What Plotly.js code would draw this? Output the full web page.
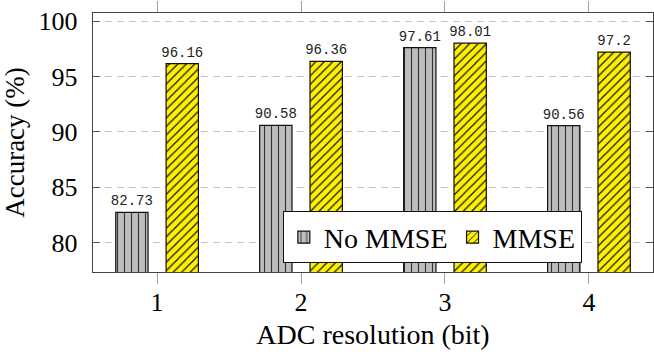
<!DOCTYPE html>
<html>
<head>
<meta charset="utf-8">
<script src="https://cdn.plot.ly/plotly-3.0.1.min.js"></script>
<style>
  html, body { margin: 0; padding: 0; background: #fff; }
  #chart { width: 654px; height: 354px; }
</style>
</head>
<body>
<div id="chart"></div>
<script>
// ---- data ----
const resolutions = [1, 2, 3, 4];
const noMmse = [82.73, 90.58, 97.61, 90.56];
const mmse = [96.16, 96.36, 98.01, 97.2];
const seriesNames = ['No MMSE', 'MMSE'];
const yTicks = [80, 85, 90, 95, 100];

const barWidth = 0.2245;
const serifFont = '"Liberation Serif", "Times New Roman", serif';
const labelFont = {family: '"Liberation Mono", "DejaVu Sans Mono", monospace', size: 14, color: '#222'};

const traces = [
  {
    type: 'bar',
    name: seriesNames[0],
    x: resolutions,
    y: noMmse,
    width: barWidth,
    offset: -0.175 - barWidth / 2,
    text: noMmse.map(String),
    textposition: 'outside',
    textfont: labelFont,
    outsidetextfont: labelFont,
    constraintext: 'none',
    cliponaxis: false,
    marker: {
      color: '#bdbdbd',
      line: {color: '#111', width: 1.2},
      pattern: {shape: '|', size: 7, solidity: 0.16, fgcolor: '#333', bgcolor: '#bdbdbd', fillmode: 'replace'}
    },
    hoverinfo: 'skip'
  },
  {
    type: 'bar',
    name: seriesNames[1],
    x: resolutions,
    y: mmse,
    width: barWidth,
    offset: 0.175 - barWidth / 2,
    text: mmse.map(String),
    textposition: 'outside',
    textfont: labelFont,
    outsidetextfont: labelFont,
    constraintext: 'none',
    cliponaxis: false,
    marker: {
      color: '#fff000',
      line: {color: '#111', width: 1.2},
      pattern: {shape: '/', size: 6, solidity: 0.2, fgcolor: '#111', bgcolor: '#fff000', fillmode: 'replace'}
    },
    hoverinfo: 'skip'
  }
];

const layout = {
  width: 654,
  height: 354,
  margin: {l: 93, r: 1, t: 13, b: 82},
  paper_bgcolor: '#fff',
  plot_bgcolor: '#fff',
  barmode: 'overlay',
  showlegend: true,
  font: {family: serifFont, color: '#000', size: 25},
  xaxis: {
    type: 'linear',
    range: [0.555, 4.445],
    tickvals: resolutions,
    ticktext: resolutions.map(String),
    ticks: 'outside',
    ticklen: 11,
    tickwidth: 1,
    tickcolor: '#a0a0a0',
    showline: true,
    linecolor: '#444',
    linewidth: 1.2,
    mirror: 'ticks',
    showgrid: false,
    zeroline: false,
    tickfont: {family: serifFont, size: 26, color: '#000'},
    ticklabelstandoff: -4,
    title: {text: 'ADC resolution (bit)', font: {family: serifFont, size: 28, color: '#000'}, standoff: 8}
  },
  yaxis: {
    range: [77.35, 100.73],
    tickvals: yTicks,
    ticktext: yTicks.map(String),
    ticks: 'inside',
    ticklen: 7,
    tickwidth: 1,
    tickcolor: '#555',
    showline: true,
    linecolor: '#444',
    linewidth: 1.2,
    mirror: 'ticks',
    showgrid: true,
    gridcolor: '#c4c4c4',
    gridwidth: 1,
    griddash: '7px,5px',
    zeroline: false,
    tickfont: {family: serifFont, size: 26, color: '#000'},
    ticklabelstandoff: 9,
    title: {text: 'Accuracy (%)', font: {family: serifFont, size: 27, color: '#000'}, standoff: 7}
  },
  legend: {
    orientation: 'h',
    x: 0.339,
    xanchor: 'left',
    y: 0.033,
    yanchor: 'bottom',
    bgcolor: '#fff',
    bordercolor: '#111',
    borderwidth: 1,
    font: {family: serifFont, size: 28, color: '#000'},
    itemwidth: 30,
    traceorder: 'normal'
  }
};

Plotly.newPlot('chart', traces, layout, {staticPlot: true, displayModeBar: false});
</script>
</body>
</html>
